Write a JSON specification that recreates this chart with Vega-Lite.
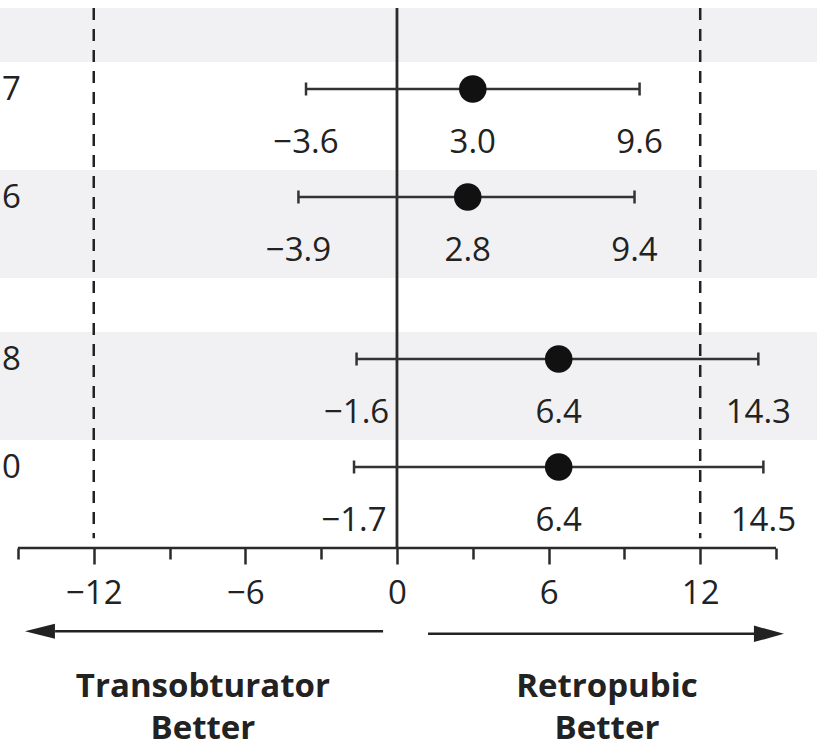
{
  "$schema": "https://vega.github.io/schema/vega-lite/v6.json",
  "width": 821,
  "height": 749,
  "autosize": {"type": "none"},
  "padding": 0,
  "background": "white",
  "config": {"view": {"stroke": null}, "font": "Open Sans"},
  "datasets": {
    "rows": [
      {"label": "7", "row": 1.5, "est": 3.0, "lo": -3.6, "hi": 9.6},
      {"label": "6", "row": 3.5, "est": 2.8, "lo": -3.9, "hi": 9.4},
      {"label": "8", "row": 6.5, "est": 6.4, "lo": -1.6, "hi": 14.3},
      {"label": "0", "row": 8.5, "est": 6.4, "lo": -1.7, "hi": 14.5}
    ],
    "bands": [
      {"from": 0, "to": 1},
      {"from": 3, "to": 5},
      {"from": 6, "to": 8}
    ],
    "refs": [{"ref": -12}, {"ref": 12}],
    "one": [{}]
  },
  "data": {"name": "rows"},
  "layer": [
    {
      "data": {"name": "bands"},
      "mark": {"type": "rect", "color": "#f1f1f3"},
      "encoding": {
        "x": {"datum": -15.71, "type": "quantitative", "scale": {"domain": [-15.71, 16.78], "nice": false, "zero": false},
          "axis": {
            "orient": "bottom",
            "offset": -201,
            "values": [-15, -12, -9, -6, -3, 0, 3, 6, 9, 12, 15],
            "domain": false,
            "grid": false,
            "title": null,
            "tickSize": {"condition": {"test": "datum.value % 6 === 0", "value": 16}, "value": 11},
            "tickWidth": 2.5,
            "tickColor": "#2a2a2a",
            "labelExpr": "datum.value % 6 === 0 ? datum.label : ''",
            "labelFont": "Open Sans",
            "labelFontSize": 33,
            "labelColor": "#222222",
            "labelBaseline": "alphabetic",
            "labelPadding": 39,
            "labelFlush": false,
            "labelOverlap": false
          }},
        "x2": {"datum": 16.62},
        "y": {"field": "from", "type": "quantitative", "scale": {"domain": [-0.148, 13.722], "reverse": true, "nice": false, "zero": false}, "axis": null},
        "y2": {"field": "to"}
      }
    },
    {
      "data": {"name": "refs"},
      "mark": {"type": "rule", "color": "#222222", "strokeWidth": 2.5, "strokeDash": [12, 9]},
      "encoding": {
        "x": {"field": "ref", "type": "quantitative"},
        "y": {"datum": 0},
        "y2": {"datum": 9.82}
      }
    },
    {
      "data": {"name": "one"},
      "mark": {"type": "rule", "color": "#2a2a2a", "strokeWidth": 2.8},
      "encoding": {
        "x": {"datum": 0},
        "y": {"datum": 0},
        "y2": {"datum": 10}
      }
    },
    {
      "data": {"name": "one"},
      "mark": {"type": "rule", "color": "#2a2a2a", "strokeWidth": 2.5},
      "encoding": {
        "x": {"datum": -15},
        "x2": {"datum": 15},
        "y": {"datum": 10}
      }
    },
    {
      "mark": {"type": "rule", "color": "#333333", "strokeWidth": 2.5},
      "encoding": {
        "x": {"field": "lo", "type": "quantitative"},
        "x2": {"field": "hi"},
        "y": {"field": "row", "type": "quantitative"}
      }
    },
    {
      "mark": {"type": "rule", "color": "#333333", "strokeWidth": 2.5, "yOffset": -6.5, "y2Offset": 6.5},
      "encoding": {
        "x": {"field": "lo", "type": "quantitative"},
        "y": {"field": "row", "type": "quantitative"},
        "y2": {"field": "row"}
      }
    },
    {
      "mark": {"type": "rule", "color": "#333333", "strokeWidth": 2.5, "yOffset": -6.5, "y2Offset": 6.5},
      "encoding": {
        "x": {"field": "hi", "type": "quantitative"},
        "y": {"field": "row", "type": "quantitative"},
        "y2": {"field": "row"}
      }
    },
    {
      "mark": {"type": "point", "shape": "circle", "filled": true, "size": 760, "color": "#111111", "opacity": 1},
      "encoding": {
        "x": {"field": "est", "type": "quantitative"},
        "y": {"field": "row", "type": "quantitative"}
      }
    },
    {
      "mark": {"type": "text", "font": "Open Sans", "fontSize": 33, "color": "#222222", "align": "center", "baseline": "alphabetic", "dy": 64},
      "encoding": {
        "x": {"field": "lo", "type": "quantitative"},
        "y": {"field": "row", "type": "quantitative"},
        "text": {"field": "lo", "type": "quantitative", "format": ".1f"}
      }
    },
    {
      "mark": {"type": "text", "font": "Open Sans", "fontSize": 33, "color": "#222222", "align": "center", "baseline": "alphabetic", "dy": 64},
      "encoding": {
        "x": {"field": "est", "type": "quantitative"},
        "y": {"field": "row", "type": "quantitative"},
        "text": {"field": "est", "type": "quantitative", "format": ".1f"}
      }
    },
    {
      "mark": {"type": "text", "font": "Open Sans", "fontSize": 33, "color": "#222222", "align": "center", "baseline": "alphabetic", "dy": 64},
      "encoding": {
        "x": {"field": "hi", "type": "quantitative"},
        "y": {"field": "row", "type": "quantitative"},
        "text": {"field": "hi", "type": "quantitative", "format": ".1f"}
      }
    },
    {
      "mark": {"type": "text", "font": "Open Sans", "fontSize": 33, "color": "#222222", "align": "right", "baseline": "alphabetic", "dy": 11},
      "encoding": {
        "x": {"datum": -14.88},
        "y": {"field": "row", "type": "quantitative"},
        "text": {"field": "label"}
      }
    },
    {
      "data": {"name": "one"},
      "mark": {"type": "rule", "color": "#222222", "strokeWidth": 2.5},
      "encoding": {
        "x": {"datum": -13.53},
        "x2": {"datum": -0.55},
        "y": {"datum": 11.54}
      }
    },
    {
      "data": {"name": "one"},
      "mark": {"type": "point", "shape": "M-1,0L1,-0.5L1,0.5Z", "filled": true, "size": 900, "color": "#222222", "opacity": 1},
      "encoding": {
        "x": {"datum": -14.13},
        "y": {"datum": 11.54}
      }
    },
    {
      "data": {"name": "one"},
      "mark": {"type": "rule", "color": "#222222", "strokeWidth": 2.5},
      "encoding": {
        "x": {"datum": 1.23},
        "x2": {"datum": 14.17},
        "y": {"datum": 11.59}
      }
    },
    {
      "data": {"name": "one"},
      "mark": {"type": "point", "shape": "M1,0L-1,-0.55L-1,0.55Z", "filled": true, "size": 900, "color": "#222222", "opacity": 1},
      "encoding": {
        "x": {"datum": 14.72},
        "y": {"datum": 11.59}
      }
    },
    {
      "data": {"name": "one"},
      "mark": {"type": "text", "font": "Open Sans", "fontWeight": "bold", "fontSize": 33, "color": "#222222", "align": "center", "baseline": "alphabetic", "lineHeight": 42, "text": ["Transobturator", "Better"]},
      "encoding": {
        "x": {"datum": -7.68},
        "y": {"datum": 12.75}
      }
    },
    {
      "data": {"name": "one"},
      "mark": {"type": "text", "font": "Open Sans", "fontWeight": "bold", "fontSize": 33, "color": "#222222", "align": "center", "baseline": "alphabetic", "lineHeight": 42, "text": ["Retropubic", "Better"]},
      "encoding": {
        "x": {"datum": 8.31},
        "y": {"datum": 12.75}
      }
    }
  ]
}
